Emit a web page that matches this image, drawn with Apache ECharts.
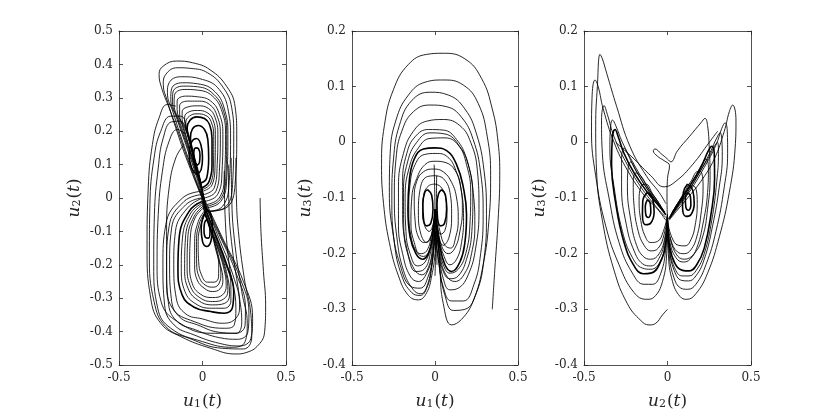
<!DOCTYPE html>
<html>
<head>
<meta charset="utf-8">
<title>phase portraits</title>
<script src="https://cdn.jsdelivr.net/npm/echarts@6/dist/echarts.min.js"></script>
<style>
  html, body { margin: 0; padding: 0; background: #fff; }
  #chart { width: 830px; height: 415px; }
</style>
</head>
<body>
<div id="chart"></div>
<script>
// ---- panel 1 : u1 (x) vs u2 (y) ----
var p1XTicks = [-0.5, 0, 0.5];
var p1YRange = [-0.5, 0.5];

var p1Upper = [
  [[0.03,-0.04],[0.14,-0.03],[0.195,0.04],[0.205,0.19],[0.195,0.274],[0.145,0.334],[0.045,0.384],[-0.06,0.405],[-0.155,0.41],[-0.235,0.395],[-0.26,0.37],[-0.245,0.33],[-0.2,0.27],[-0.14,0.19],[-0.07,0.09],[0.03,-0.04]],
  [[0.03,-0.04],[0.13,-0.03],[0.18,0.04],[0.187,0.19],[0.175,0.27],[0.125,0.33],[0.03,0.375],[-0.07,0.388],[-0.15,0.39],[-0.22,0.37],[-0.235,0.34],[-0.21,0.29],[-0.16,0.21],[-0.09,0.11],[0.03,-0.04]],
  [[0.03,-0.04],[0.12,-0.025],[0.16,0.05],[0.168,0.18],[0.155,0.26],[0.1,0.325],[0.0,0.355],[-0.13,0.363],[-0.2,0.345],[-0.21,0.315],[-0.175,0.255],[-0.12,0.17],[-0.05,0.07],[0.03,-0.04]],
  [[0.02,-0.03],[0.11,-0.01],[0.145,0.06],[0.152,0.19],[0.135,0.26],[0.075,0.318],[-0.03,0.342],[-0.12,0.345],[-0.185,0.327],[-0.19,0.295],[-0.155,0.24],[-0.1,0.16],[-0.04,0.07],[0.02,-0.03]],
  [[0.02,-0.025],[0.105,-0.005],[0.14,0.065],[0.145,0.19],[0.127,0.258],[0.068,0.31],[-0.03,0.333],[-0.115,0.335],[-0.177,0.317],[-0.18,0.288],[-0.147,0.235],[-0.095,0.16],[-0.035,0.07],[0.02,-0.025]],
  [[0.02,-0.02],[0.1,0.0],[0.132,0.07],[0.138,0.19],[0.118,0.257],[0.06,0.305],[-0.03,0.323],[-0.11,0.325],[-0.168,0.307],[-0.17,0.28],[-0.138,0.23],[-0.09,0.16],[-0.03,0.07],[0.02,-0.02]],
  [[0.015,-0.01],[0.09,0.01],[0.117,0.08],[0.122,0.19],[0.102,0.25],[0.05,0.29],[-0.03,0.303],[-0.1,0.305],[-0.152,0.29],[-0.152,0.265],[-0.123,0.22],[-0.08,0.15],[-0.03,0.07],[0.015,-0.01]],
  [[0.01,0.0],[0.08,0.02],[0.102,0.09],[0.107,0.19],[0.088,0.245],[0.042,0.28],[-0.03,0.29],[-0.09,0.29],[-0.137,0.276],[-0.137,0.25],[-0.112,0.21],[-0.072,0.14],[-0.03,0.07],[0.01,0.0]],
  [[0.005,0.01],[0.07,0.03],[0.088,0.1],[0.092,0.19],[0.076,0.24],[0.036,0.268],[-0.03,0.276],[-0.085,0.273],[-0.122,0.258],[-0.122,0.235],[-0.097,0.2],[-0.062,0.14],[-0.022,0.07],[0.005,0.01]],
  [[0.0,0.02],[0.058,0.04],[0.075,0.1],[0.077,0.19],[0.062,0.235],[0.026,0.256],[-0.03,0.262],[-0.08,0.258],[-0.107,0.242],[-0.103,0.217],[-0.082,0.18],[-0.052,0.13],[-0.02,0.07],[0.0,0.02]],
  [[-0.003,0.025],[0.05,0.045],[0.066,0.105],[0.067,0.185],[0.052,0.228],[0.02,0.247],[-0.033,0.252],[-0.078,0.245],[-0.1,0.225],[-0.093,0.197],[-0.072,0.16],[-0.044,0.11],[-0.003,0.025]]
];
var p1UpperBold = [
  [[-0.005,0.03],[0.04,0.05],[0.057,0.11],[0.057,0.18],[0.042,0.22],[0.012,0.238],[-0.035,0.243],[-0.075,0.233],[-0.092,0.21],[-0.082,0.18],[-0.062,0.14],[-0.035,0.09],[-0.005,0.03]],
  [[-0.01,0.045],[0.025,0.06],[0.037,0.12],[0.032,0.175],[0.012,0.205],[-0.025,0.217],[-0.06,0.207],[-0.072,0.18],[-0.062,0.14],[-0.04,0.09],[-0.01,0.045]],
  [[-0.035,0.07],[-0.008,0.085],[0.0,0.12],[-0.01,0.16],[-0.035,0.178],[-0.065,0.168],[-0.08,0.13],[-0.065,0.09],[-0.035,0.07]],
  [[-0.032,0.098],[-0.018,0.107],[-0.015,0.128],[-0.025,0.148],[-0.04,0.15],[-0.052,0.133],[-0.048,0.11],[-0.032,0.098]]
];
var p1Lower = [
  [[-0.01,0.02],[-0.12,0.0],[-0.22,-0.08],[-0.237,-0.2],[-0.227,-0.32],[-0.17,-0.38],[-0.05,-0.41],[0.1,-0.435],[0.22,-0.443],[0.29,-0.42],[0.3,-0.36],[0.245,-0.25],[0.12,-0.12],[-0.01,0.02]],
  [[-0.01,0.01],[-0.11,-0.01],[-0.2,-0.085],[-0.215,-0.2],[-0.205,-0.31],[-0.155,-0.368],[-0.04,-0.395],[0.1,-0.418],[0.21,-0.423],[0.272,-0.4],[0.278,-0.345],[0.225,-0.24],[0.11,-0.115],[-0.01,0.01]],
  [[-0.01,0.0],[-0.1,-0.02],[-0.185,-0.09],[-0.197,-0.2],[-0.187,-0.3],[-0.14,-0.355],[-0.03,-0.38],[0.1,-0.402],[0.2,-0.405],[0.255,-0.38],[0.257,-0.33],[0.205,-0.23],[0.1,-0.11],[-0.01,0.0]],
  [[0.0,0.0],[-0.09,-0.03],[-0.162,-0.1],[-0.172,-0.2],[-0.157,-0.3],[-0.1,-0.347],[0.0,-0.362],[0.12,-0.375],[0.2,-0.36],[0.222,-0.32],[0.182,-0.23],[0.09,-0.11],[0.0,0.0]],
  [[0.0,-0.015],[-0.07,-0.045],[-0.12,-0.12],[-0.127,-0.21],[-0.105,-0.28],[-0.04,-0.317],[0.055,-0.33],[0.13,-0.33],[0.17,-0.308],[0.17,-0.26],[0.128,-0.185],[0.06,-0.095],[0.0,-0.015]],
  [[0.0,-0.02],[-0.06,-0.05],[-0.102,-0.12],[-0.107,-0.21],[-0.087,-0.27],[-0.03,-0.305],[0.06,-0.32],[0.13,-0.316],[0.162,-0.29],[0.152,-0.24],[0.112,-0.17],[0.05,-0.09],[0.0,-0.02]],
  [[0.003,-0.025],[-0.05,-0.055],[-0.088,-0.12],[-0.092,-0.205],[-0.074,-0.262],[-0.02,-0.297],[0.06,-0.31],[0.125,-0.303],[0.152,-0.277],[0.142,-0.23],[0.104,-0.165],[0.046,-0.09],[0.003,-0.025]],
  [[0.005,-0.03],[-0.045,-0.06],[-0.073,-0.12],[-0.077,-0.2],[-0.062,-0.255],[-0.012,-0.288],[0.06,-0.298],[0.12,-0.29],[0.142,-0.262],[0.127,-0.21],[0.09,-0.15],[0.04,-0.08],[0.005,-0.03]],
  [[0.01,-0.04],[-0.025,-0.07],[-0.047,-0.13],[-0.047,-0.2],[-0.032,-0.245],[0.01,-0.27],[0.06,-0.28],[0.105,-0.272],[0.122,-0.245],[0.107,-0.2],[0.077,-0.14],[0.035,-0.08],[0.01,-0.04]],
  [[0.012,-0.045],[-0.018,-0.075],[-0.036,-0.13],[-0.035,-0.195],[-0.019,-0.238],[0.02,-0.262],[0.065,-0.267],[0.1,-0.255],[0.11,-0.225],[0.092,-0.175],[0.062,-0.115],[0.012,-0.045]],
  [[0.015,-0.05],[-0.01,-0.08],[-0.026,-0.13],[-0.023,-0.19],[-0.006,-0.23],[0.03,-0.252],[0.07,-0.252],[0.096,-0.236],[0.097,-0.2],[0.077,-0.15],[0.046,-0.09],[0.015,-0.05]]
];
var p1LowerBold = [
  [[0.0,-0.01],[-0.08,-0.04],[-0.14,-0.12],[-0.147,-0.21],[-0.122,-0.29],[-0.05,-0.327],[0.05,-0.34],[0.13,-0.345],[0.18,-0.327],[0.187,-0.28],[0.145,-0.2],[0.07,-0.1],[0.0,-0.01]],
  [[0.03,-0.035],[0.005,-0.055],[-0.008,-0.09],[0.0,-0.13],[0.025,-0.145],[0.05,-0.13],[0.06,-0.09],[0.05,-0.05],[0.03,-0.035]],
  [[0.025,-0.065],[0.012,-0.075],[0.009,-0.095],[0.018,-0.118],[0.035,-0.12],[0.045,-0.1],[0.04,-0.077],[0.025,-0.065]]
];
var p1Switch = [
  [[0.2,0.12],[0.203,0.0],[0.215,-0.1],[0.25,-0.24],[0.29,-0.35],[0.295,-0.415],[0.245,-0.452],[0.12,-0.45],[-0.08,-0.42],[-0.22,-0.385],[-0.29,-0.31],[-0.318,-0.17],[-0.315,-0.02],[-0.29,0.12],[-0.25,0.2],[-0.19,0.245],[-0.13,0.245],[-0.09,0.2],[-0.055,0.14]],
  [[0.172,0.12],[0.175,0.0],[0.19,-0.12],[0.235,-0.28],[0.268,-0.375],[0.255,-0.43],[0.18,-0.447],[0.0,-0.43],[-0.19,-0.39],[-0.268,-0.33],[-0.292,-0.2],[-0.288,-0.05],[-0.265,0.09],[-0.235,0.18],[-0.185,0.228],[-0.13,0.23],[-0.095,0.195]],
  [[0.155,0.1],[0.158,-0.02],[0.178,-0.15],[0.222,-0.3],[0.235,-0.37],[0.2,-0.405],[0.05,-0.405],[-0.15,-0.37],[-0.248,-0.31],[-0.272,-0.2],[-0.265,-0.05],[-0.24,0.08],[-0.2,0.17],[-0.15,0.205],[-0.1,0.19]],
  [[0.13,0.08],[0.135,-0.05],[0.16,-0.2],[0.2,-0.33],[0.19,-0.38],[0.13,-0.39],[-0.05,-0.37],[-0.18,-0.33],[-0.215,-0.25],[-0.215,-0.1],[-0.2,0.03],[-0.16,0.12],[-0.11,0.16]]
];
var p1Start = [[0.345,0.0],[0.35,-0.1],[0.365,-0.22],[0.378,-0.32],[0.372,-0.4],[0.335,-0.44],[0.26,-0.463],[0.2,-0.467],[0.05,-0.45],[-0.13,-0.415],[-0.25,-0.375],[-0.31,-0.3],[-0.332,-0.15],[-0.325,0.03],[-0.3,0.16],[-0.26,0.24],[-0.21,0.28],[-0.16,0.275]];

// ---- panel 2 : u1 (x) vs u3 (y) ----
var p2XTicks = [-0.5, 0, 0.5];
var p2YRange = [-0.4, 0.2];

var p2Start = [[0.345,-0.3],[0.36,-0.23],[0.38,-0.14],[0.39,-0.06],[0.38,0.0],[0.345,0.06],[0.28,0.115],[0.18,0.15],[0.05,0.16],[-0.05,0.158],[-0.16,0.14],[-0.25,0.095],[-0.305,0.03],[-0.322,-0.04],[-0.31,-0.11],[-0.275,-0.18],[-0.22,-0.24],[-0.16,-0.275],[-0.1,-0.283],[-0.05,-0.27],[-0.02,-0.24],[0.0,-0.2],[0.01,-0.15]];
var p2Loops = [
  [[0.02,-0.16],[0.03,-0.23],[0.05,-0.29],[0.1,-0.328],[0.16,-0.318],[0.23,-0.285],[0.29,-0.22],[0.325,-0.14],[0.335,-0.06],[0.315,0.01],[0.26,0.07],[0.17,0.103],[0.05,0.112],[-0.06,0.108],[-0.16,0.085],[-0.235,0.04],[-0.27,-0.02],[-0.275,-0.09],[-0.255,-0.16],[-0.21,-0.22],[-0.15,-0.258],[-0.09,-0.262],[-0.04,-0.24],[-0.01,-0.2],[0.0,-0.15]],
  [[0.0,-0.16],[-0.02,-0.225],[-0.05,-0.262],[-0.09,-0.275],[-0.14,-0.27],[-0.2,-0.24],[-0.245,-0.18],[-0.26,-0.1],[-0.25,-0.03],[-0.215,0.03],[-0.14,0.075],[-0.03,0.09],[0.08,0.085],[0.18,0.06],[0.25,0.015],[0.295,-0.05],[0.31,-0.13],[0.295,-0.21],[0.25,-0.27],[0.18,-0.3],[0.11,-0.302],[0.06,-0.275],[0.025,-0.22],[0.0,-0.16]],
  [[0.0,-0.16],[-0.02,-0.22],[-0.05,-0.26],[-0.085,-0.272],[-0.13,-0.265],[-0.19,-0.23],[-0.23,-0.17],[-0.245,-0.1],[-0.235,-0.03],[-0.2,0.02],[-0.13,0.055],[-0.03,0.067],[0.07,0.064],[0.16,0.045],[0.23,0.005],[0.275,-0.055],[0.29,-0.13],[0.275,-0.2],[0.235,-0.255],[0.17,-0.285],[0.1,-0.285],[0.05,-0.26],[0.02,-0.21],[0.0,-0.16]],
  [[0.01,-0.15],[0.025,-0.2],[0.05,-0.245],[0.09,-0.265],[0.14,-0.262],[0.2,-0.238],[0.245,-0.19],[0.265,-0.12],[0.255,-0.05],[0.215,0.0],[0.15,0.03],[0.05,0.041],[-0.05,0.038],[-0.13,0.02],[-0.19,-0.02],[-0.22,-0.08],[-0.22,-0.15],[-0.195,-0.2],[-0.15,-0.24],[-0.1,-0.25],[-0.05,-0.235],[-0.015,-0.2],[0.0,-0.15]],
  [[0.0,-0.14],[-0.015,-0.19],[-0.04,-0.225],[-0.08,-0.238],[-0.125,-0.228],[-0.17,-0.19],[-0.195,-0.13],[-0.195,-0.07],[-0.17,-0.02],[-0.12,0.01],[-0.04,0.023],[0.05,0.022],[0.13,0.005],[0.19,-0.03],[0.23,-0.09],[0.24,-0.15],[0.22,-0.2],[0.18,-0.235],[0.12,-0.25],[0.07,-0.24],[0.03,-0.205],[0.01,-0.16]],
  [[0.005,-0.14],[0.02,-0.19],[0.045,-0.228],[0.09,-0.245],[0.14,-0.24],[0.19,-0.21],[0.222,-0.16],[0.228,-0.1],[0.205,-0.045],[0.15,-0.008],[0.06,0.015],[-0.03,0.017],[-0.11,0.0],[-0.165,-0.035],[-0.19,-0.09],[-0.188,-0.155],[-0.16,-0.205],[-0.115,-0.232],[-0.065,-0.228],[-0.025,-0.195],[0.005,-0.14]],
  [[0.01,-0.14],[0.025,-0.185],[0.05,-0.22],[0.09,-0.235],[0.14,-0.228],[0.185,-0.2],[0.21,-0.15],[0.215,-0.09],[0.19,-0.04],[0.14,-0.005],[0.06,0.008],[-0.03,0.007],[-0.1,-0.01],[-0.155,-0.045],[-0.18,-0.1],[-0.175,-0.16],[-0.15,-0.2],[-0.105,-0.222],[-0.06,-0.215],[-0.025,-0.185],[0.0,-0.14]],
  [[0.0,-0.13],[-0.012,-0.165],[-0.035,-0.195],[-0.07,-0.205],[-0.11,-0.197],[-0.145,-0.168],[-0.158,-0.12],[-0.15,-0.075],[-0.12,-0.04],[-0.065,-0.022],[0.005,-0.02],[0.075,-0.026],[0.125,-0.05],[0.16,-0.09],[0.172,-0.135],[0.16,-0.18],[0.13,-0.21],[0.09,-0.22],[0.055,-0.205],[0.022,-0.17],[0.003,-0.13]],
  [[0.005,-0.125],[0.02,-0.16],[0.045,-0.19],[0.08,-0.2],[0.12,-0.19],[0.15,-0.16],[0.165,-0.12],[0.155,-0.08],[0.12,-0.05],[0.06,-0.036],[0.0,-0.034],[-0.06,-0.04],[-0.11,-0.065],[-0.14,-0.1],[-0.145,-0.145],[-0.125,-0.18],[-0.09,-0.2],[-0.05,-0.195],[-0.02,-0.165],[0.0,-0.125]],
  [[0.0,-0.12],[-0.01,-0.15],[-0.035,-0.175],[-0.065,-0.18],[-0.1,-0.17],[-0.12,-0.14],[-0.125,-0.1],[-0.11,-0.07],[-0.07,-0.053],[-0.01,-0.048],[0.05,-0.053],[0.1,-0.072],[0.13,-0.1],[0.14,-0.14],[0.125,-0.17],[0.095,-0.19],[0.06,-0.185],[0.03,-0.16],[0.005,-0.12]],
  [[0.0,-0.06],[0.05,-0.065],[0.09,-0.09],[0.1,-0.13],[0.085,-0.17],[0.05,-0.185],[0.015,-0.16],[0.0,-0.12],[-0.015,-0.16],[-0.05,-0.18],[-0.085,-0.165],[-0.1,-0.125],[-0.09,-0.085],[-0.05,-0.062],[0.0,-0.06]],
  [[0.0,-0.075],[0.035,-0.08],[0.065,-0.1],[0.072,-0.13],[0.06,-0.158],[0.035,-0.165],[0.01,-0.145],[0.0,-0.12],[-0.01,-0.145],[-0.035,-0.16],[-0.062,-0.15],[-0.075,-0.125],[-0.068,-0.095],[-0.038,-0.078],[0.0,-0.075]]
];
var p2Bold = [
  [[0.0,-0.13],[-0.015,-0.17],[-0.04,-0.2],[-0.075,-0.21],[-0.115,-0.2],[-0.15,-0.17],[-0.163,-0.12],[-0.155,-0.07],[-0.125,-0.03],[-0.07,-0.012],[0.0,-0.01],[0.07,-0.015],[0.13,-0.04],[0.17,-0.08],[0.19,-0.13],[0.18,-0.18],[0.15,-0.215],[0.1,-0.232],[0.06,-0.22],[0.025,-0.18],[0.005,-0.14]],
  [[-0.045,-0.085],[-0.02,-0.095],[-0.012,-0.12],[-0.025,-0.145],[-0.05,-0.15],[-0.07,-0.135],[-0.073,-0.11],[-0.062,-0.09],[-0.045,-0.085]],
  [[0.04,-0.085],[0.063,-0.095],[0.07,-0.12],[0.058,-0.145],[0.035,-0.15],[0.015,-0.135],[0.012,-0.11],[0.022,-0.092],[0.04,-0.085]]
];
var p2Stem = [
  [[-0.005,-0.04],[0.0,-0.12],[0.003,-0.2],[0.0,-0.24]],
  [[0.01,-0.06],[0.008,-0.14],[0.012,-0.22]]
];

// ---- panel 3 : u2 (x) vs u3 (y) ----
var p3XTicks = [-0.5, 0, 0.5];
var p3YRange = [-0.4, 0.2];

var p3Left = [
  [[0.0,-0.3],[-0.03,-0.31],[-0.07,-0.325],[-0.11,-0.328],[-0.16,-0.32],[-0.24,-0.29],[-0.32,-0.23],[-0.39,-0.14],[-0.425,-0.05],[-0.43,0.03],[-0.42,0.1],[-0.404,0.158],[-0.39,0.15],[-0.364,0.124],[-0.304,0.064],[-0.225,-0.007],[-0.125,-0.061],[-0.05,-0.09],[-0.01,-0.11]],
  [[0.0,-0.14],[-0.005,-0.2],[-0.03,-0.25],[-0.08,-0.278],[-0.125,-0.282],[-0.2,-0.27],[-0.29,-0.22],[-0.37,-0.15],[-0.43,-0.06],[-0.455,0.02],[-0.452,0.08],[-0.434,0.112],[-0.415,0.1],[-0.385,0.06],[-0.32,0.0],[-0.24,-0.05],[-0.14,-0.095],[-0.06,-0.12],[-0.01,-0.14]],
  [[0.0,-0.14],[-0.01,-0.19],[-0.04,-0.235],[-0.09,-0.255],[-0.14,-0.255],[-0.21,-0.235],[-0.29,-0.18],[-0.35,-0.1],[-0.39,-0.02],[-0.395,0.04],[-0.38,0.066],[-0.36,0.05],[-0.32,0.01],[-0.25,-0.035],[-0.16,-0.08],[-0.07,-0.115],[-0.01,-0.135]],
  [[0.0,-0.135],[-0.012,-0.18],[-0.045,-0.215],[-0.1,-0.228],[-0.15,-0.226],[-0.21,-0.207],[-0.27,-0.16],[-0.32,-0.08],[-0.345,-0.01],[-0.34,0.03],[-0.33,0.04],[-0.31,0.03],[-0.27,0.0],[-0.2,-0.04],[-0.12,-0.08],[-0.05,-0.112],[-0.01,-0.13]],
  [[0.0,-0.13],[-0.015,-0.175],[-0.05,-0.208],[-0.1,-0.222],[-0.15,-0.218],[-0.2,-0.195],[-0.245,-0.15],[-0.275,-0.08],[-0.275,-0.03],[-0.26,-0.01],[-0.24,-0.02],[-0.2,-0.045],[-0.14,-0.075],[-0.07,-0.105],[-0.015,-0.125]],
  [[0.0,-0.13],[-0.015,-0.17],[-0.05,-0.2],[-0.1,-0.21],[-0.145,-0.205],[-0.185,-0.185],[-0.22,-0.14],[-0.24,-0.08],[-0.235,-0.045],[-0.22,-0.035],[-0.19,-0.05],[-0.13,-0.08],[-0.07,-0.105],[-0.02,-0.125]],
  [[0.0,-0.13],[-0.02,-0.165],[-0.055,-0.19],[-0.1,-0.195],[-0.14,-0.185],[-0.175,-0.16],[-0.2,-0.115],[-0.205,-0.075],[-0.19,-0.055],[-0.16,-0.06],[-0.11,-0.085],[-0.06,-0.105],[-0.02,-0.125]],
  [[0.0,-0.13],[-0.025,-0.16],[-0.06,-0.178],[-0.1,-0.18],[-0.135,-0.168],[-0.16,-0.14],[-0.17,-0.105],[-0.16,-0.08],[-0.13,-0.075],[-0.09,-0.092],[-0.05,-0.11],[-0.02,-0.125]]
];
var p3LeftBold = [
  [[0.0,-0.135],[-0.01,-0.18],[-0.05,-0.22],[-0.1,-0.235],[-0.145,-0.236],[-0.2,-0.222],[-0.26,-0.18],[-0.31,-0.11],[-0.335,-0.04],[-0.33,0.01],[-0.314,0.023],[-0.295,0.01],[-0.26,-0.02],[-0.2,-0.055],[-0.12,-0.09],[-0.05,-0.115],[-0.01,-0.13]],
  [[-0.12,-0.09],[-0.09,-0.1],[-0.08,-0.125],[-0.1,-0.145],[-0.13,-0.148],[-0.15,-0.13],[-0.148,-0.105],[-0.12,-0.09]],
  [[-0.12,-0.103],[-0.103,-0.11],[-0.1,-0.125],[-0.115,-0.135],[-0.13,-0.13],[-0.133,-0.115],[-0.12,-0.103]]
];
var p3Right = [
  [[0.0,-0.14],[0.005,-0.2],[0.03,-0.25],[0.075,-0.277],[0.115,-0.282],[0.17,-0.272],[0.24,-0.235],[0.31,-0.17],[0.37,-0.09],[0.405,-0.01],[0.41,0.04],[0.39,0.067],[0.37,0.055],[0.34,0.02],[0.28,-0.03],[0.2,-0.07],[0.12,-0.1],[0.05,-0.125],[0.01,-0.14]],
  [[0.0,-0.14],[0.008,-0.195],[0.035,-0.24],[0.08,-0.262],[0.12,-0.264],[0.17,-0.255],[0.23,-0.22],[0.29,-0.16],[0.34,-0.08],[0.36,-0.02],[0.358,0.02],[0.345,0.035],[0.325,0.025],[0.29,-0.005],[0.22,-0.045],[0.14,-0.085],[0.06,-0.118],[0.01,-0.138]],
  [[0.0,-0.14],[0.01,-0.19],[0.04,-0.23],[0.085,-0.248],[0.125,-0.249],[0.17,-0.24],[0.22,-0.21],[0.27,-0.15],[0.31,-0.08],[0.328,-0.025],[0.325,0.005],[0.315,0.017],[0.295,0.008],[0.26,-0.015],[0.2,-0.05],[0.13,-0.085],[0.06,-0.115],[0.01,-0.137]],
  [[0.0,-0.14],[0.01,-0.188],[0.042,-0.225],[0.088,-0.24],[0.128,-0.24],[0.172,-0.23],[0.22,-0.2],[0.265,-0.14],[0.295,-0.07],[0.305,-0.02],[0.3,0.0],[0.285,-0.005],[0.25,-0.025],[0.19,-0.055],[0.12,-0.09],[0.05,-0.12],[0.01,-0.138]],
  [[0.0,-0.14],[0.015,-0.18],[0.05,-0.207],[0.095,-0.215],[0.135,-0.21],[0.175,-0.19],[0.21,-0.15],[0.24,-0.09],[0.245,-0.045],[0.23,-0.03],[0.205,-0.04],[0.16,-0.065],[0.1,-0.092],[0.04,-0.12],[0.005,-0.138]],
  [[0.0,-0.14],[0.02,-0.175],[0.06,-0.197],[0.1,-0.2],[0.14,-0.193],[0.175,-0.17],[0.2,-0.13],[0.213,-0.08],[0.205,-0.055],[0.185,-0.052],[0.14,-0.07],[0.08,-0.1],[0.03,-0.125]],
  [[0.0,-0.14],[0.025,-0.17],[0.065,-0.185],[0.105,-0.186],[0.14,-0.175],[0.165,-0.15],[0.178,-0.11],[0.172,-0.085],[0.15,-0.078],[0.11,-0.09],[0.06,-0.11],[0.02,-0.13]]
];
var p3RightBold = [
  [[0.0,-0.14],[0.012,-0.185],[0.045,-0.218],[0.09,-0.23],[0.13,-0.231],[0.175,-0.22],[0.22,-0.19],[0.26,-0.13],[0.282,-0.065],[0.28,-0.02],[0.265,-0.007],[0.245,-0.015],[0.2,-0.045],[0.14,-0.075],[0.07,-0.108],[0.015,-0.135]],
  [[0.12,-0.075],[0.15,-0.085],[0.16,-0.11],[0.14,-0.13],[0.11,-0.133],[0.09,-0.115],[0.095,-0.09],[0.12,-0.075]],
  [[0.12,-0.09],[0.137,-0.097],[0.14,-0.112],[0.125,-0.122],[0.11,-0.117],[0.107,-0.1],[0.12,-0.09]]
];
var p3Hook = [[0.0,-0.14],[-0.003,-0.1],[0.0,-0.065],[0.012,-0.042],[-0.02,-0.033],[-0.06,-0.025],[-0.085,-0.015],[-0.075,-0.012],[-0.04,-0.02],[0.0,-0.03],[0.02,-0.035],[0.06,-0.015],[0.13,0.01],[0.2,0.035],[0.225,0.043],[0.24,0.03],[0.25,-0.01],[0.255,-0.06],[0.24,-0.12],[0.21,-0.17],[0.16,-0.2],[0.1,-0.21],[0.05,-0.2],[0.015,-0.17]];
var p3Cross = [
  [[-0.31,0.0],[-0.2,-0.03],[-0.1,-0.06],[-0.02,-0.08],[0.05,-0.07],[0.15,-0.04],[0.25,0.0],[0.3,0.02]]
];

var chart = echarts.init(document.getElementById('chart'));

var serif = 'DejaVu Serif';
var axisColor = '#262626';
var grids = [
  { left: 119, top: 31, width: 167, height: 335 },
  { left: 352, top: 31, width: 166, height: 335 },
  { left: 584, top: 31, width: 167, height: 335 }
];

// axis names in LaTeX style: u_i(t)
function mathName(idx) {
  return '{u|u}{s|' + idx + '}{p|(}{t|t}{p|)}';
}
var nameRich = {
  u: { fontFamily: serif, fontStyle: 'italic', fontSize: 17, color: axisColor },
  s: { fontFamily: serif, fontSize: 11, color: axisColor, verticalAlign: 'bottom', padding: [6, 1, 0, 0] },
  p: { fontFamily: serif, fontSize: 17, color: axisColor },
  t: { fontFamily: serif, fontStyle: 'italic', fontSize: 17, color: axisColor }
};

var xNames = ['1', '1', '2'];
var yNames = ['2', '3', '3'];
var yRanges = [p1YRange, p2YRange, p3YRange];
var xTicks = [p1XTicks, p2XTicks, p3XTicks];
var yNameGaps = [36, 38, 36];

var xAxes = [], yAxes = [];
for (var i = 0; i < 3; i++) {
  var lineStyle = { color: axisColor, width: 0.8 };
  xAxes.push({
    gridIndex: i, type: 'value', position: 'bottom',
    min: xTicks[i][0], max: xTicks[i][2], interval: 0.5,
    name: mathName(xNames[i]), nameLocation: 'middle', nameGap: 28,
    nameTextStyle: { rich: nameRich },
    axisLine: { onZero: false, lineStyle: lineStyle },
    axisTick: { inside: true, length: 4, lineStyle: lineStyle },
    axisLabel: { fontFamily: serif, fontSize: 12, color: axisColor, margin: 7 },
    splitLine: { show: false }
  });
  xAxes.push({
    gridIndex: i, type: 'value', position: 'top',
    min: xTicks[i][0], max: xTicks[i][2], interval: 0.5,
    axisLine: { onZero: false, lineStyle: lineStyle },
    axisTick: { inside: true, length: 4, lineStyle: lineStyle },
    axisLabel: { show: false }, splitLine: { show: false }
  });
  yAxes.push({
    gridIndex: i, type: 'value', position: 'left',
    min: yRanges[i][0], max: yRanges[i][1], interval: 0.1,
    name: mathName(yNames[i]), nameLocation: 'middle', nameGap: yNameGaps[i], nameRotate: 90,
    nameTextStyle: { rich: nameRich },
    axisLine: { onZero: false, lineStyle: lineStyle },
    axisTick: { inside: true, length: 4, lineStyle: lineStyle },
    axisLabel: { fontFamily: serif, fontSize: 12, color: axisColor, margin: 6 },
    splitLine: { show: false }
  });
  yAxes.push({
    gridIndex: i, type: 'value', position: 'right',
    min: yRanges[i][0], max: yRanges[i][1], interval: 0.1,
    axisLine: { onZero: false, lineStyle: lineStyle },
    axisTick: { inside: true, length: 4, lineStyle: lineStyle },
    axisLabel: { show: false }, splitLine: { show: false }
  });
}

var series = [];
function addCurves(list, panel, width) {
  list.forEach(function (curve) {
    series.push({
      type: 'line',
      xAxisIndex: panel * 2,
      yAxisIndex: panel * 2,
      data: curve,
      smooth: 0.45,
      symbol: 'none',
      silent: true,
      lineStyle: { color: '#000', width: width }
    });
  });
}

var thin = 0.85, bold = 1.6;
addCurves(p1Upper, 0, thin);
addCurves(p1Lower, 0, thin);
addCurves(p1Switch, 0, thin);
addCurves([p1Start], 0, thin);
addCurves(p1UpperBold, 0, bold);
addCurves(p1LowerBold, 0, bold);

addCurves([p2Start], 1, thin);
addCurves(p2Loops, 1, thin);
addCurves(p2Stem, 1, thin);
addCurves(p2Bold, 1, bold);

addCurves(p3Left, 2, thin);
addCurves(p3Right, 2, thin);
addCurves([p3Hook], 2, thin);
addCurves(p3Cross, 2, thin);
addCurves(p3LeftBold, 2, bold);
addCurves(p3RightBold, 2, bold);

chart.setOption({
  animation: false,
  backgroundColor: '#fff',
  grid: grids,
  xAxis: xAxes,
  yAxis: yAxes,
  series: series
});
</script>
</body>
</html>
